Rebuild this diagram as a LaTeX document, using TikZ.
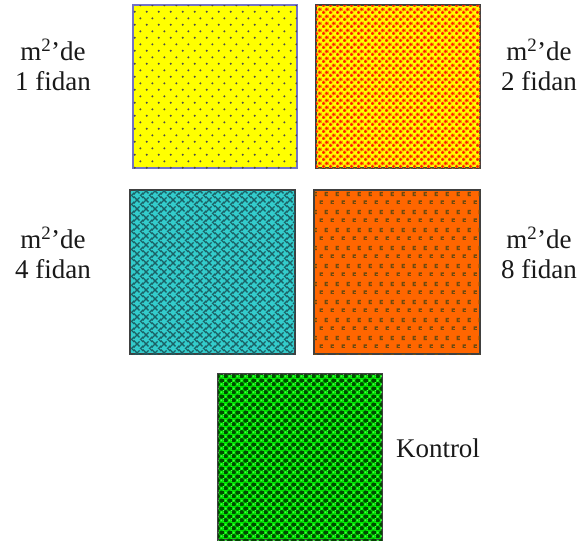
\documentclass[tikz,border=0pt]{standalone}
\usepackage{fontspec}
\setmainfont{Liberation Serif}
\usetikzlibrary{patterns.meta}

\definecolor{plotyellow}{HTML}{FFFF00}
\definecolor{plotred}{HTML}{FF1A00}
\definecolor{plotorange}{HTML}{FF9900}
\definecolor{plotteal}{HTML}{33CCCC}
\definecolor{plottealdark}{HTML}{1B6266}
\definecolor{plotpumpkin}{HTML}{FF6600}
\definecolor{plotbrown}{HTML}{6E4A10}
\definecolor{plotgreen}{HTML}{00E000}
\definecolor{plotgreendark}{HTML}{004A00}
\definecolor{plotlime}{HTML}{40FF40}

% dotted fill for the one-seedling plot
\tikzdeclarepattern{
  name=sparsedots, type=colored,
  bounding box={(0pt,0pt) and (12pt,13.4pt)},
  tile size={(12pt,13.4pt)},
  code={
    \fill[black!70] (3pt,3.35pt) circle (1.15pt) (9pt,10.05pt) circle (1.15pt);
  }
}
% dense red dots for the two-seedling plot
\tikzdeclarepattern{
  name=densedots, type=colored,
  bounding box={(0pt,0pt) and (7pt,7pt)},
  tile size={(7pt,7pt)},
  code={
    \fill[plotorange] (1.75pt,1.75pt) circle (2.3pt) (5.25pt,5.25pt) circle (2.3pt);
    \fill[plotred] (1.75pt,1.75pt) circle (1.6pt) (5.25pt,5.25pt) circle (1.6pt);
  }
}
% woven chevrons for the four-seedling plot
\tikzdeclarepattern{
  name=weave, type=colored,
  bounding box={(0pt,0pt) and (9pt,9pt)},
  tile size={(9pt,9pt)},
  code={
    \draw[plottealdark, line width=1.5pt, line cap=rect]
      (0pt,2.25pt) -- (4.5pt,6.75pt) (4.5pt,-2.25pt) -- (9pt,2.25pt)
      (4.5pt,11.25pt) -- (9pt,6.75pt) (0pt,6.75pt) -- (4.5pt,2.25pt);
  }
}
% small dark marks for the eight-seedling plot
\tikzdeclarepattern{
  name=marks, type=colored,
  bounding box={(0pt,0pt) and (11pt,18pt)},
  tile size={(11pt,18pt)},
  code={
    \draw[plotbrown, line width=1.6pt] (4.2pt,3pt) arc (45:315:2pt);
    \draw[plotbrown, line width=1.6pt] (9.7pt,12pt) arc (45:315:2pt);
  }
}
% beads for the control plot
\tikzdeclarepattern{
  name=beads, type=colored,
  bounding box={(0pt,0pt) and (8pt,8pt)},
  tile size={(8pt,8pt)},
  code={
    \fill[plotgreendark] (2pt,2pt) circle (2.4pt) (6pt,6pt) circle (2.4pt);
    \fill[plotlime] (6pt,2pt) circle (1.1pt) (2pt,6pt) circle (1.1pt);
  }
}

\tikzset{
  plot/.style={draw=black!75, line width=1.4pt},
  label/.style={font=\fontsize{27}{30}\selectfont, text=black!90, align=center, inner sep=0pt}
}

\begin{document}
\begin{tikzpicture}[x=1pt, y=-1pt]
  \useasboundingbox (0,0) rectangle (587,546);

  % plots
  \filldraw[plot, draw=black!40!blue!55!white, line width=1.8pt, fill=plotyellow, postaction={pattern=sparsedots}]
    (133,5) rectangle (297,168);
  \filldraw[plot, fill=plotyellow, postaction={pattern=densedots}]
    (316,5) rectangle (480,168);
  \filldraw[plot, fill=plotteal, postaction={pattern=weave}]
    (130,190) rectangle (295,354);
  \filldraw[plot, fill=plotpumpkin, postaction={pattern=marks}]
    (314,190) rectangle (480,354);
  \filldraw[plot, fill=plotgreen, postaction={pattern=beads}]
    (218,374) rectangle (382,540);

  % labels
  \node[label] (one) at (53,65) {m\textsuperscript{2}’de\\1 fidan};
  \node[label] (two) at (539,65) {m\textsuperscript{2}’de\\2 fidan};
  \node[label] (four) at (53,253) {m\textsuperscript{2}’de\\4 fidan};
  \node[label] (eight) at (539,253) {m\textsuperscript{2}’de\\8 fidan};
  \node[label, anchor=base] (control) at (438,457) {Kontrol};
\end{tikzpicture}
\end{document}
